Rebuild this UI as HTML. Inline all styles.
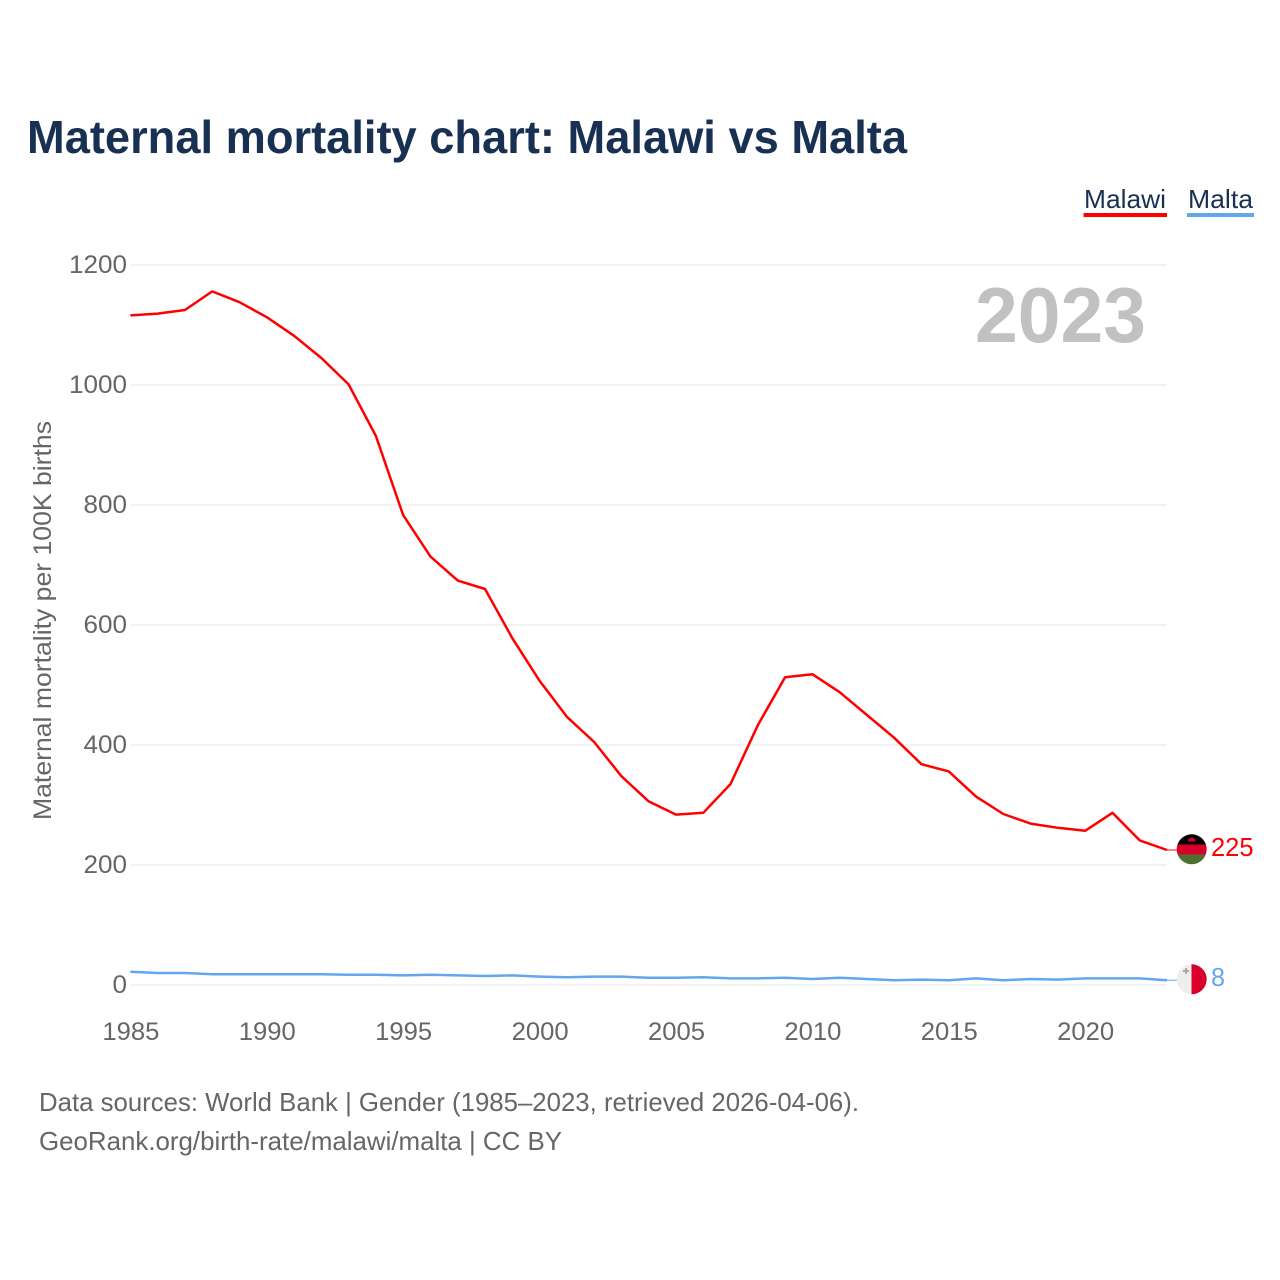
<!DOCTYPE html>
<html lang="en">
<head>
<meta charset="utf-8">
<title>Maternal mortality chart: Malawi vs Malta</title>
<style>
html,body{margin:0;padding:0;background:#fff;}
svg{display:block;font-family:"Liberation Sans",sans-serif;}
</style>
</head>
<body>
<svg id="chart" width="1280" height="1280" viewBox="0 0 1280 1280" xmlns="http://www.w3.org/2000/svg">
  <defs>
    <clipPath id="clip-malawi"><circle cx="1191.7" cy="849.3" r="15"/></clipPath>
    <clipPath id="clip-malta"><circle cx="1191.7" cy="979.3" r="15"/></clipPath>
  </defs>
  <rect width="1280" height="1280" fill="#fff"/>
  <text x="27" y="153" font-size="46" font-weight="700" fill="#183153" textLength="880" lengthAdjust="spacingAndGlyphs">Maternal mortality chart: Malawi vs Malta</text>

  <g>
    <text x="1084" y="208" font-size="26" fill="#183153" textLength="82" lengthAdjust="spacingAndGlyphs">Malawi</text>
    <rect x="1083.5" y="213" width="83.5" height="4" fill="#ff0000"/>
  </g>
  <g>
    <text x="1188" y="208" font-size="26" fill="#183153" textLength="65" lengthAdjust="spacingAndGlyphs">Malta</text>
    <rect x="1187" y="213" width="67" height="4" fill="#63a6ee"/>
  </g>

  <g id="grid"></g>
  <g id="y-labels"></g>
  <g id="x-labels"></g>
  <text transform="translate(51,620.5) rotate(-90)" text-anchor="middle" font-size="25" fill="#666" textLength="399" lengthAdjust="spacingAndGlyphs">Maternal mortality per 100K births</text>
  <text id="year-label" x="975" y="342" font-size="78" font-weight="700" fill="#c1c1c1" textLength="171" lengthAdjust="spacingAndGlyphs"></text>

  <path id="line-malawi" fill="none" stroke="#ff0000" stroke-width="2.5" stroke-linejoin="round"/>
  <path id="line-malta" fill="none" stroke="#63a6ee" stroke-width="2.5" stroke-linejoin="round"/>
  <line id="connector-malawi" stroke="#ff0000" stroke-width="1"/>
  <line id="connector-malta" stroke="#63a6ee" stroke-width="1"/>

  <g clip-path="url(#clip-malawi)">
    <rect x="1176" y="834" width="31" height="10.5" fill="#000"/>
    <rect x="1176" y="844.5" width="31" height="10" fill="#d8002b"/>
    <rect x="1176" y="854.5" width="31" height="10" fill="#4c702f"/>
    <path d="M1188 841.5 a3.7 4 0 0 1 7.4 0 z" fill="#d8002b"/>
  </g>
  <g clip-path="url(#clip-malta)">
    <rect x="1176" y="964" width="15.5" height="31" fill="#eeeeee"/>
    <rect x="1191.5" y="964" width="16" height="31" fill="#d8002b"/>
    <path d="M1185 968h2v2h2v2h-2v2h-2v-2h-2v-2h2z" fill="#aaa"/>
  </g>
  <text id="end-malawi" x="1211" y="856" font-size="26" fill="#ff0000" textLength="42.5" lengthAdjust="spacingAndGlyphs"></text>
  <text id="end-malta" x="1211" y="986" font-size="26" fill="#63a6ee" textLength="14" lengthAdjust="spacingAndGlyphs"></text>

  <text x="39" y="1111" font-size="26" fill="#666" textLength="820" lengthAdjust="spacingAndGlyphs">Data sources: World Bank | Gender (1985–2023, retrieved 2026-04-06).</text>
  <text x="39" y="1150" font-size="26" fill="#666" textLength="523" lengthAdjust="spacingAndGlyphs">GeoRank.org/birth-rate/malawi/malta | CC BY</text>
</svg>
<script>
const years = [1985,1986,1987,1988,1989,1990,1991,1992,1993,1994,1995,1996,1997,1998,1999,2000,2001,2002,2003,2004,2005,2006,2007,2008,2009,2010,2011,2012,2013,2014,2015,2016,2017,2018,2019,2020,2021,2022,2023];
const malawiValues = [1116,1119,1125,1156,1138,1113,1082,1045,1001,915,783,714,674,660,578,507,447,405,348,306,284,287,335,433,513,518,488,450,412,368,356,314,285,269,262,257,287,241,225];
const maltaValues = [22,20,20,18,18,18,18,18,17,17,16,17,16,15,16,14,13,14,14,12,12,13,11,11,12,10,12,10,8,9,8,11,8,10,9,11,11,11,8];
const yTicks = [0,200,400,600,800,1000,1200];
const xTicks = [1985,1990,1995,2000,2005,2010,2015,2020];

const NS = 'http://www.w3.org/2000/svg';
function xScale(year) { return 130.4 + (year - 1985) * (1167 - 130.4) / (2023 - 1985); }
function yScale(value) { return 985 - value * 0.6; }
function linePath(values) {
  return values.map(function (v, i) {
    return (i ? 'L' : 'M') + xScale(years[i]).toFixed(2) + ' ' + yScale(v).toFixed(2);
  }).join('');
}

const grid = document.getElementById('grid');
const yLabels = document.getElementById('y-labels');
const xLabels = document.getElementById('x-labels');

yTicks.forEach(function (t) {
  const line = document.createElementNS(NS, 'line');
  
  
  line.setAttribute('x1', 131);
  line.setAttribute('x2', 1167);
  line.setAttribute('y1', yScale(t));
  line.setAttribute('y2', yScale(t));
  line.setAttribute('stroke', '#eeeeee');
  line.setAttribute('stroke-width', '1.5');
  grid.appendChild(line);

  const label = document.createElementNS(NS, 'text');
  
  
  label.setAttribute('x', 127);
  label.setAttribute('y', yScale(t) + 8);
  label.setAttribute('text-anchor', 'end');
  label.setAttribute('font-size', '25');
  label.setAttribute('fill', '#666');
  label.setAttribute('textLength', String(t).length * 14.5);
  label.setAttribute('lengthAdjust', 'spacingAndGlyphs');
  label.textContent = t;
  yLabels.appendChild(label);
});

xTicks.forEach(function (t) {
  const label = document.createElementNS(NS, 'text');
  
  
  label.setAttribute('x', xScale(t) + 0.5);
  label.setAttribute('y', 1040);
  label.setAttribute('text-anchor', 'middle');
  label.setAttribute('font-size', '25');
  label.setAttribute('fill', '#666');
  label.setAttribute('textLength', 57);
  label.setAttribute('lengthAdjust', 'spacingAndGlyphs');
  label.textContent = t;
  xLabels.appendChild(label);
});

document.getElementById('line-malawi').setAttribute('d', linePath(malawiValues));
document.getElementById('line-malta').setAttribute('d', linePath(maltaValues));

const lastX = xScale(years[years.length - 1]);
const lastMalawi = malawiValues[malawiValues.length - 1];
const lastMalta = maltaValues[maltaValues.length - 1];

[['connector-malawi', lastMalawi], ['connector-malta', lastMalta]].forEach(function (c) {
  const el = document.getElementById(c[0]);
  el.setAttribute('x1', lastX);
  el.setAttribute('x2', lastX + 10);
  el.setAttribute('y1', yScale(c[1]));
  el.setAttribute('y2', yScale(c[1]));
});

document.getElementById('end-malawi').textContent = lastMalawi;
document.getElementById('end-malta').textContent = lastMalta;
document.getElementById('year-label').textContent = years[years.length - 1];
</script>
</body>
</html>
